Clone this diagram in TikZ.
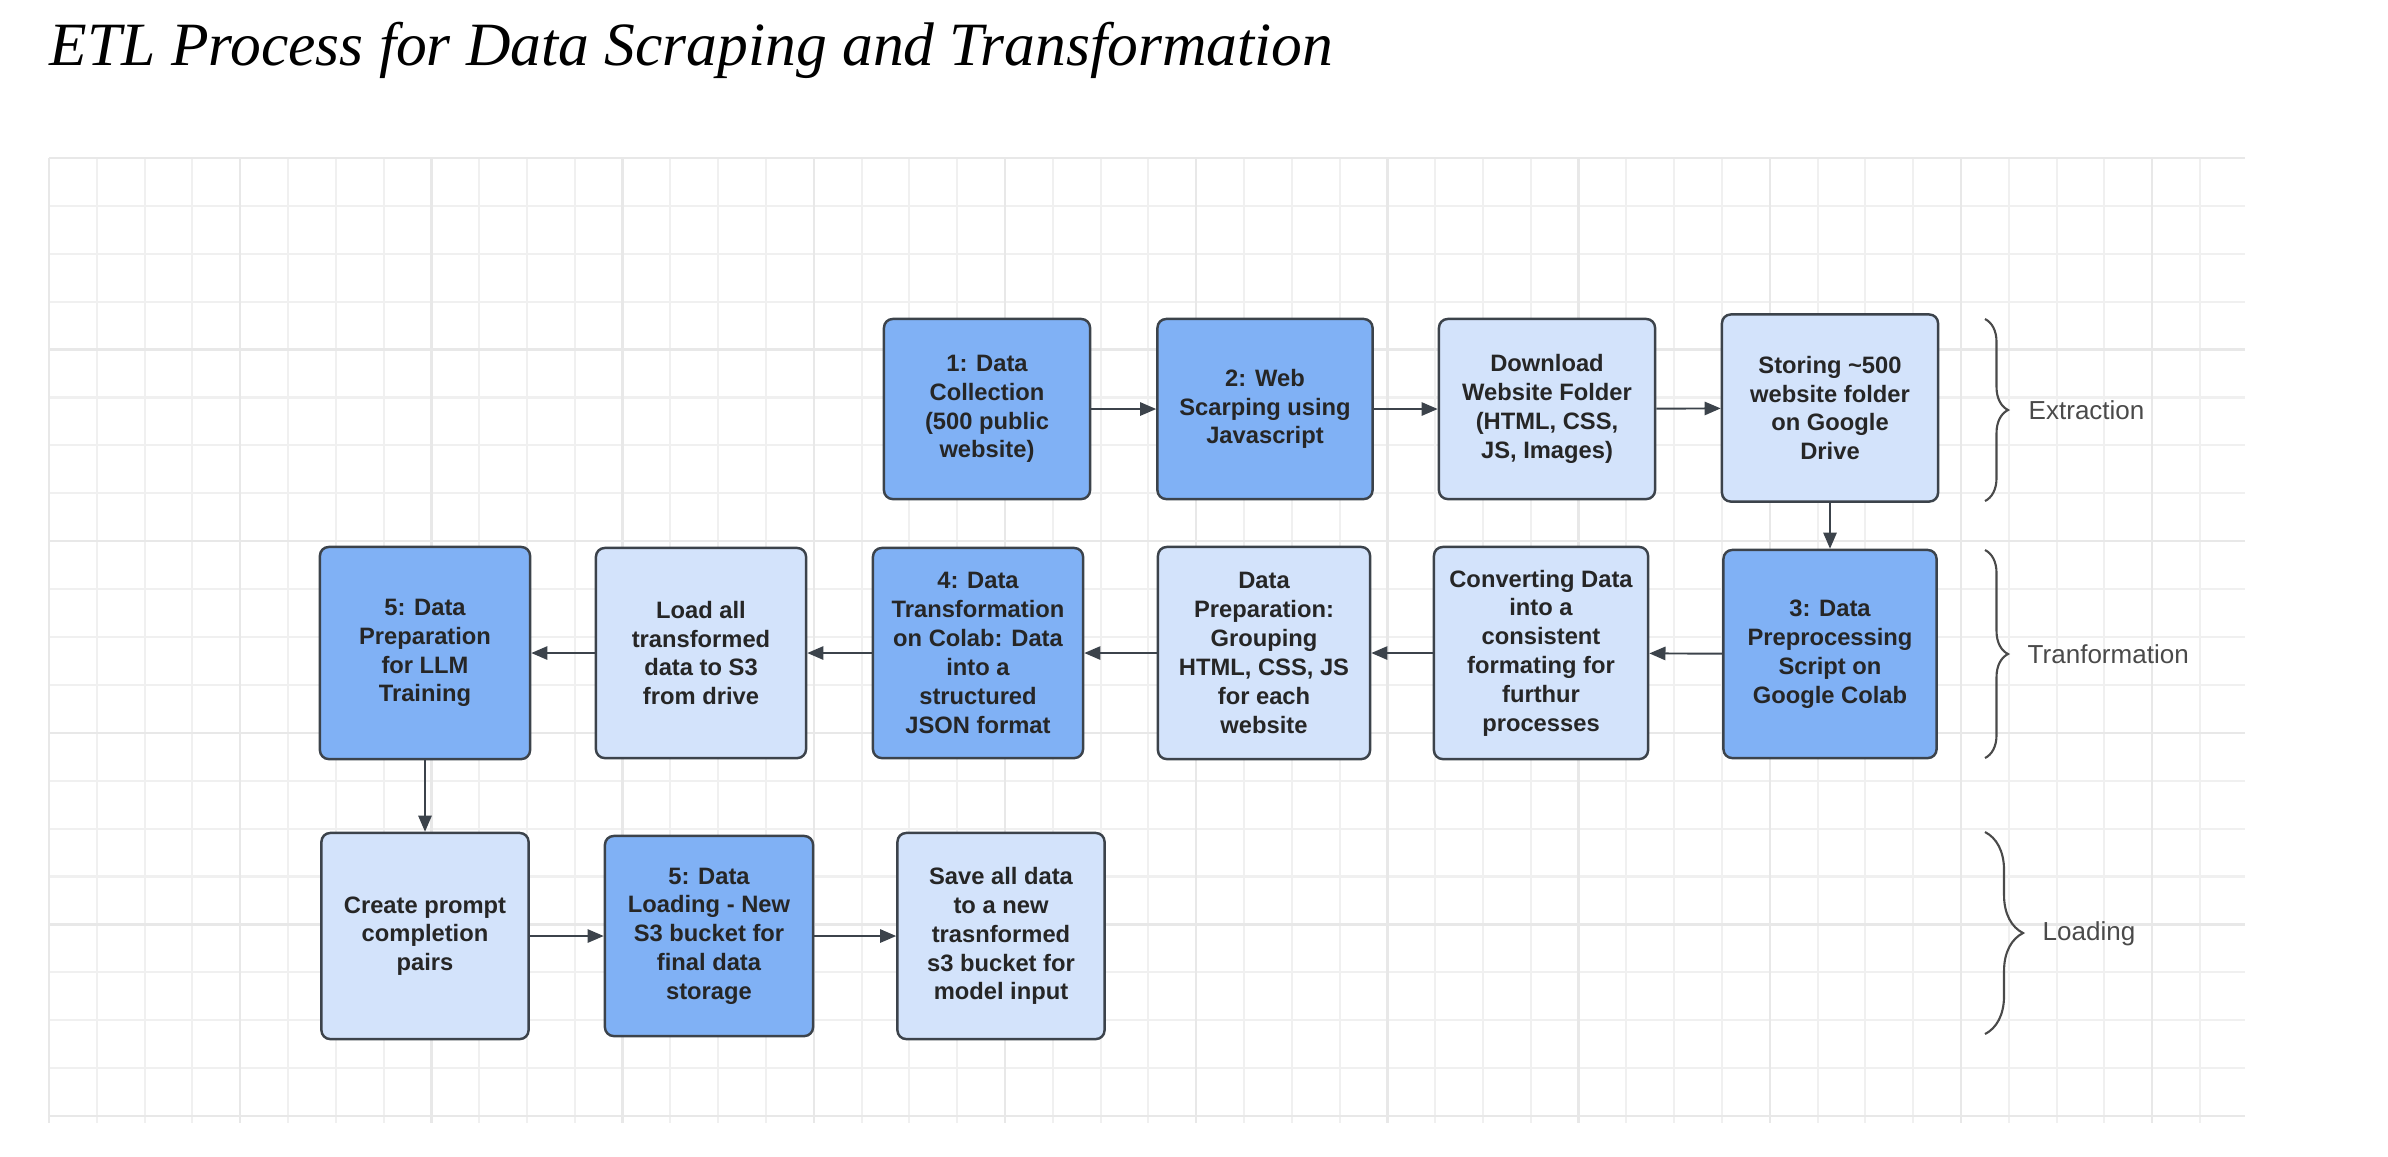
\documentclass[tikz,border=0pt]{standalone}
\usepackage{fontspec}
\setmainfont{Liberation Serif}
\setsansfont{Liberation Sans}
\usetikzlibrary{arrows.meta, decorations.pathreplacing}
\definecolor{cdark}{HTML}{80B1F5}
\definecolor{clight}{HTML}{D3E3FB}
\definecolor{cline}{HTML}{3C434B}
\definecolor{cgrid}{HTML}{F0F0F0}
\definecolor{cgridmaj}{HTML}{E8E8E8}
\definecolor{ctext}{HTML}{262626}
\definecolor{cphase}{HTML}{4A4A4A}
\tikzset{
  every picture/.style={font=\sffamily},
  box/.style={draw=cline, fill=#1, line width=0.7pt, rounded corners=2.5pt, align=center, inner sep=0pt,
    minimum width=2.1cm, minimum height=2.1cm, text=ctext, font=\sffamily\bfseries\fontsize{6.75}{8.2}\selectfont},
  box/.default=clight,
  arrow/.style={-{Triangle[length=4.6pt, width=3.8pt]}, draw=cline, line width=0.55pt},
  phase/.style={font=\sffamily\fontsize{7.4}{9}\selectfont, text=cphase, anchor=west, inner sep=0pt},
  curly/.style={decorate, decoration={brace, amplitude=#1}, draw=cphase, line width=0.6pt},
  title/.style={font=\itshape\fontsize{17.5}{20}\selectfont, anchor=base west, inner sep=0pt},
  gridline/.style={draw=cgrid, line width=0.6pt},
  gridmajor/.style={draw=cgridmaj, line width=0.7pt},
}

\begin{document}
\begin{tikzpicture}[x=0.01cm, y=-0.01cm]
  \useasboundingbox (0,0) rectangle (2388,1156);
  \node[title] (heading) at (49,65) {ETL Process for Data Scraping and Transformation};
  % grid paper
  \foreach \i in {0,...,45} \draw[gridline] ({49+47.8*\i},158) -- ++(0,965);
  \foreach \j in {0,...,20} \draw[gridline] (49,{158+47.9*\j}) -- (2245,{158+47.9*\j});
  \foreach \i in {0,4,...,44} \draw[gridmajor] ({49+47.8*\i},158) -- ++(0,965);
  \foreach \j in {0,4,...,20} \draw[gridmajor] (49,{158+47.9*\j}) -- (2245,{158+47.9*\j});
  % row 1: extraction
  \node[box=cdark, minimum width=2.06cm, minimum height=1.8cm] (collect) at (987,409) {1: Data\\Collection\\(500 public\\website)};
  \node[box=cdark, minimum width=2.15cm, minimum height=1.8cm] (scrape) at (1265,409) {2: Web\\Scarping using\\Javascript};
  \node[box, minimum width=2.16cm, minimum height=1.8cm] (download) at (1547,409) {Download\\Website Folder\\(HTML, CSS,\\JS, Images)};
  \node[box, minimum width=2.16cm, minimum height=1.87cm] (store) at (1830,408) {Storing \textasciitilde500\\website folder\\on Google\\Drive};
  % row 2: transformation, right to left
  \node[box=cdark, minimum width=2.13cm, minimum height=2.08cm] (preproc) at (1830,654) {3: Data\\Preprocessing\\Script on\\Google Colab};
  \node[box, minimum width=2.14cm, minimum height=2.12cm] (convert) at (1541,653) {Converting Data\\into a\\consistent\\formating for\\furthur\\processes};
  \node[box, minimum width=2.12cm, minimum height=2.12cm] (group) at (1264,653) {Data\\Preparation:\\Grouping\\HTML, CSS, JS\\for each\\website};
  \node[box=cdark, minimum height=2.1cm] (json) at (978,653) {4: Data\\Transformation\\on Colab: Data\\into a\\structured\\JSON format};
  \node[box, minimum height=2.1cm] (loads3) at (701,653) {Load all\\transformed\\data to S3\\from drive};
  \node[box=cdark, minimum height=2.12cm] (llmprep) at (425,653) {5: Data\\Preparation\\for LLM\\Training};
  % row 3: loading
  \node[box, minimum width=2.07cm, minimum height=2.06cm] (pairs) at (425,936) {Create prompt\\completion\\pairs};
  \node[box=cdark, minimum width=2.08cm, minimum height=2.0cm] (bucket) at (709,936) {5: Data\\Loading - New\\S3 bucket for\\final data\\storage};
  \node[box, minimum width=2.07cm, minimum height=2.06cm] (save) at (1001,936) {Save all data\\to a new\\trasnformed\\s3 bucket for\\model input};
  % flow
  \draw[arrow] (collect) -- (scrape);
  \draw[arrow] (scrape) -- (download);
  \draw[arrow] (download) -- (store);
  \draw[arrow] (store) -- (preproc);
  \draw[arrow] (preproc) -- (convert);
  \draw[arrow] (convert) -- (group);
  \draw[arrow] (group) -- (json);
  \draw[arrow] (json) -- (loads3);
  \draw[arrow] (loads3) -- (llmprep);
  \draw[arrow] (llmprep) -- (pairs);
  \draw[arrow] (pairs) -- (bucket);
  \draw[arrow] (bucket) -- (save);
  % phases
  \draw[curly=0.23cm] (1985,319) -- (1985,501);
  \node[phase] (extract) at (2028,410) {Extraction};
  \draw[curly=0.23cm] (1985,550) -- (1985,758);
  \node[phase] (transform) at (2027,654) {Tranformation};
  \draw[curly=0.38cm] (1985,832) -- (1985,1034);
  \node[phase] (load) at (2042,934) {Loading};
\end{tikzpicture}
\end{document}
